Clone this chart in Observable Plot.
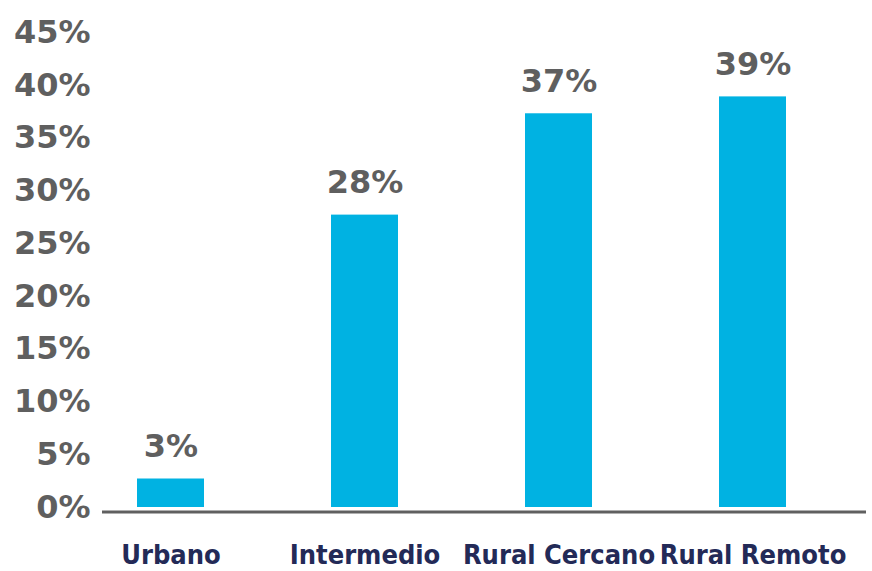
<!DOCTYPE html>
<html>
<head>
<meta charset="utf-8">
<script src="https://cdn.jsdelivr.net/npm/d3@7"></script>
<script src="https://cdn.jsdelivr.net/npm/@observablehq/plot@0.6"></script>
<style>
  html, body { margin: 0; padding: 0; background: #ffffff; }
  #chart svg { display: block; }
</style>
</head>
<body>
<div id="chart"></div>
<script>
const categories = ["Urbano", "Intermedio", "Rural Cercano", "Rural Remoto"];
const values = [2.7, 27.7, 37.3, 38.9];
const valueLabels = ["3%", "28%", "37%", "39%"];
const yTicks = [0, 5, 10, 15, 20, 25, 30, 35, 40, 45];
const yTickLabels = ["0%", "5%", "10%", "15%", "20%", "25%", "30%", "35%", "40%", "45%"];

const data = categories.map((c, i) => ({ cat: c, value: values[i], label: valueLabels[i] }));

const chart = Plot.plot({
  width: 872,
  height: 571,
  marginLeft: 102,
  marginRight: 6,
  marginTop: 32,
  marginBottom: 64,
  style: { fontFamily: "'DejaVu Sans', sans-serif", fontWeight: "bold", background: "#ffffff" },
  x: { domain: categories, paddingInner: 0.656, paddingOuter: 0.287, align: 0.3, label: null },
  y: { domain: [0, 45], label: null },
  marks: [
    Plot.barY(data, { x: "cat", y: "value", fill: "#00b2e2" }),
    Plot.ruleY([0], { stroke: "#606060", strokeWidth: 3, dy: 4.5 }),
    Plot.text(data, { x: "cat", y: "value", text: "label", dy: -32, fill: "#5f5f5f", fontSize: 32, fontWeight: "bold" }),
    Plot.axisY({ ticks: yTicks, tickFormat: (d) => yTickLabels[yTicks.indexOf(d)], tickSize: 0, tickPadding: 12, fontSize: 32, fill: "#5f5f5f", label: null }),
    Plot.axisX({ tickSize: 0, tickPadding: 37, fontSize: 27, fontFamily: "'DejaVu Sans Condensed', 'DejaVu Sans', sans-serif", fill: "#232a57", label: null })
  ]
});
document.getElementById("chart").appendChild(chart);
</script>
</body>
</html>
